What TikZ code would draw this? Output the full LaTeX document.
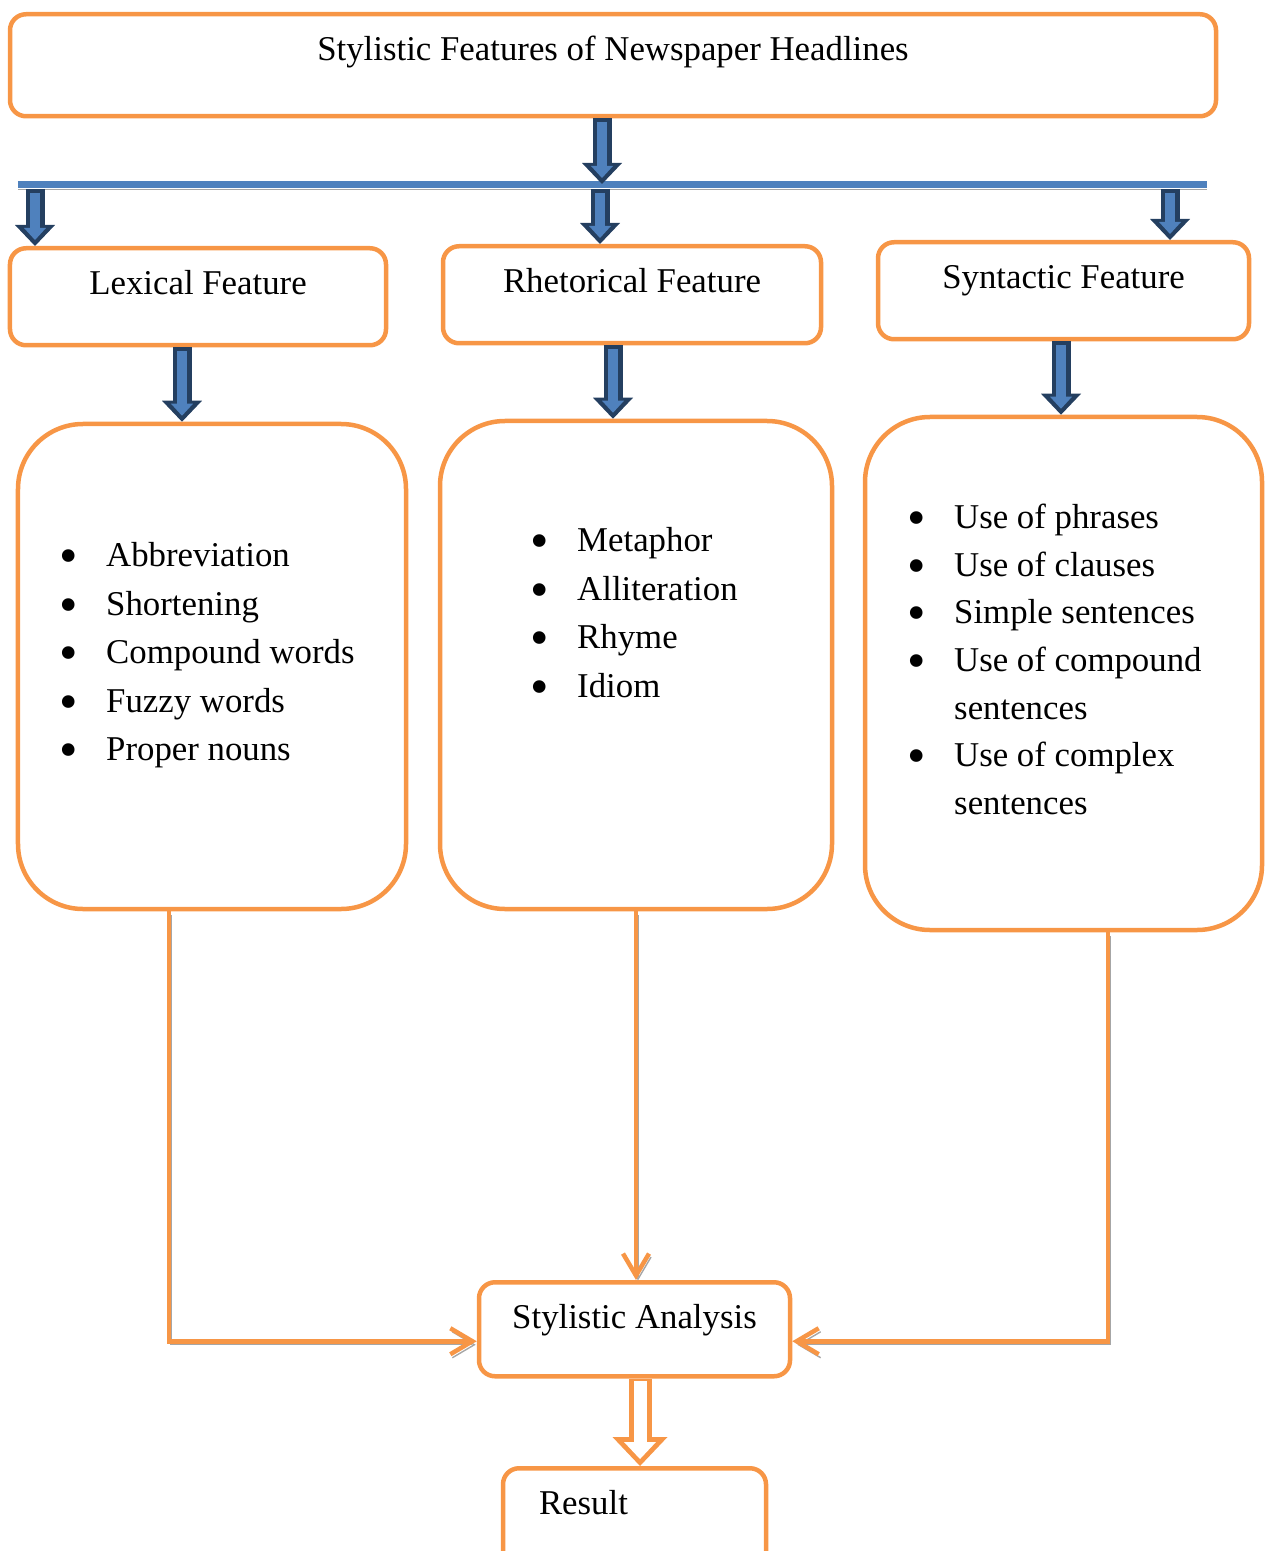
\documentclass[tikz,border=0pt]{standalone}
\usepackage{fontspec}
\setmainfont{Liberation Serif}
\usetikzlibrary{arrows.meta}
\definecolor{orangeln}{HTML}{F79646}
\definecolor{arrowblue}{HTML}{4F81BD}
\definecolor{arrowdark}{HTML}{243F60}
\definecolor{shadowgray}{HTML}{A6A6A6}
\newcommand{\itm}{\makebox[4.7mm][l]{\raisebox{-1.9pt}{\fontsize{15}{15}\selectfont\textbullet}}}
\newcommand{\itmgap}{\hspace*{4.7mm}}
\begin{document}
\begin{tikzpicture}[font=\fontsize{9.9}{13.8}\selectfont,
  headbox/.style={draw=orangeln, line width=0.45mm, rounded corners=1.6mm,
    anchor=north, align=center, text height=3.5mm, text depth=4mm, inner ysep=1.1mm},
  listbox/.style={draw=orangeln, line width=0.45mm, rounded corners=6.5mm},
  items/.style={anchor=north west, align=left, inner sep=0pt},
  link/.style={draw=orangeln, line width=0.45mm,
    -{Straight Barb[length=2.2mm,width=2.6mm]},
    preaction={draw=shadowgray, transform canvas={shift={(0.2mm,-0.35mm)}}}},
  fatarrow/.style={draw=arrowdark, line width=1.9mm,
    -{Triangle[width=4mm,length=2.1mm,line width=0pt]},
    postaction={draw=arrowblue, line width=1mm, shorten <=0.4mm, shorten >=0.6mm,
      -{Triangle[width=2.2mm,length=1.2mm,line width=0pt]}}},
  hollowarrow/.style={draw=orangeln, line width=2.3mm,
    -{Triangle[width=5.5mm,length=2.9mm,line width=0pt]},
    postaction={draw=white, line width=1.3mm, shorten <=0.25mm, shorten >=0.7mm,
      -{Triangle[width=3.2mm,length=1.7mm,line width=0pt]}}},
  busbar/.style={draw=arrowblue, line width=0.7mm,
    preaction={draw=shadowgray, transform canvas={yshift=-0.45mm}}}]
  \useasboundingbox (0,0) rectangle (12.64,-15.51);
  % Title
  \node[headbox, minimum width=12.06cm, text depth=4.5mm] (title) at (6.13,-0.12)
    {Stylistic Features of Newspaper Headlines};
  % Branch bar
  \coordinate (busL) at (0.18,-1.85);
  \coordinate (busR) at (12.07,-1.85);
  \draw[busbar] (busL) -- (busR);
  \coordinate (b0) at (6.02,-1.84);
  \coordinate (b1) at (0.35,-1.89);
  \coordinate (b2) at (6.00,-1.89);
  \coordinate (b3) at (11.70,-1.89);
  % Feature boxes
  \node[headbox, minimum width=3.76cm] (lex) at (1.98,-2.46) {Lexical Feature};
  \node[headbox, minimum width=3.78cm] (rhet) at (6.32,-2.44) {Rhetorical Feature};
  \node[headbox, minimum width=3.71cm] (syn) at (10.635,-2.40) {Syntactic Feature};
  \draw[fatarrow] (b0 |- title.south) -- (b0);
  \draw[fatarrow] (b1) -- (b1 |- lex.north);
  \draw[fatarrow] (b2) -- (b2 |- rhet.north);
  \draw[fatarrow] (b3) -- (b3 |- syn.north);
  % Lists of features
  \node[listbox, minimum width=3.88cm, minimum height=4.85cm] (lexlist) at (2.12,-6.665) {};
  \node[listbox, minimum width=3.92cm, minimum height=4.88cm] (rhetlist) at (6.36,-6.65) {};
  \node[listbox, minimum width=3.97cm, minimum height=5.13cm] (synlist) at (10.635,-6.735) {};
  \node[items] (lexitems) at (0.585,-5.42)
    {\itm Abbreviation\\ \itm Shortening\\ \itm Compound words\\
     \itm Fuzzy words\\ \itm Proper nouns};
  \node[items] (rhetitems) at (5.295,-5.27)
    {\itm Metaphor\\ \itm Alliteration\\ \itm Rhyme\\ \itm Idiom};
  \node[items, font=\fontsize{9.9}{13.55}\selectfont] (synitems) at (9.065,-5.035)
    {\itm Use of phrases\\ \itm Use of clauses\\ \itm Simple sentences\\
     \itm Use of compound\\ \itmgap sentences\\ \itm Use of complex\\ \itmgap sentences};
  \draw[fatarrow] ([xshift=-0.16cm]lex.south) -- ([xshift=-0.16cm]lex.south |- lexlist.north);
  \draw[fatarrow] ([xshift=-0.19cm]rhet.south) -- ([xshift=-0.19cm]rhet.south |- rhetlist.north);
  \draw[fatarrow] ([xshift=-0.025cm]syn.south) -- ([xshift=-0.025cm]syn.south |- synlist.north);
  % Analysis and result
  \node[headbox, minimum width=3.11cm, text depth=3.7mm] (analysis) at (6.345,-12.80)
    {Stylistic Analysis};
  \node[headbox, minimum width=2.63cm, text width=1.91cm, inner xsep=3.6mm,
    align=left, text depth=8mm] (result) at (6.345,-14.66) {Result};
  \draw[link] ([xshift=-0.43cm]lexlist.south) |- ([yshift=-0.12cm]analysis.west);
  \draw[link] (rhetlist.south) -- (rhetlist.south |- analysis.north);
  \draw[link] ([xshift=0.445cm]synlist.south) |- ([yshift=-0.12cm]analysis.east);
  \draw[hollowarrow] ([xshift=0.055cm]analysis.south) -- ([xshift=0.055cm]analysis.south |- result.north);
\end{tikzpicture}
\end{document}
